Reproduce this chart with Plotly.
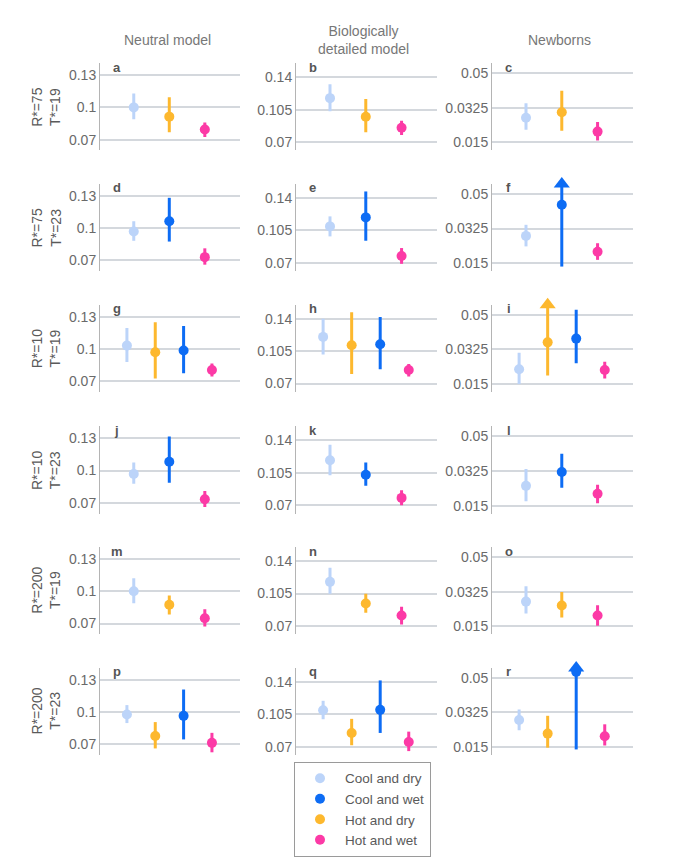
import plotly.graph_objects as go

OFF = float("inf")  # upper limit runs past the top of the axis (drawn as an arrow)

categories = ["Cool and dry", "Cool and wet", "Hot and dry", "Hot and wet"]
x_order = ["Cool and dry", "Hot and dry", "Cool and wet", "Hot and wet"]
colors = {"Cool and dry": "#bcd4f9", "Cool and wet": "#0d6cf4",
          "Hot and dry": "#fdb82e", "Hot and wet": "#fc3aa6"}

panel_letters = list("abcdefghijklmnopqr")
col_titles = ["Neutral model", "Biologically<br>detailed model", "Newborns"]
row_labels = ["R*=75<br>T*=19", "R*=75<br>T*=23", "R*=10<br>T*=19",
              "R*=10<br>T*=23", "R*=200<br>T*=19", "R*=200<br>T*=23"]

y_ranges = [[0.06, 0.141], [0.061, 0.155], [0.011, 0.055]]
y_ticks = [[0.07, 0.1, 0.13], [0.07, 0.105, 0.14], [0.015, 0.0325, 0.05]]
y_ticktext = [["0.07", "0.1", "0.13"], ["0.07", "0.105", "0.14"], ["0.015", "0.0325", "0.05"]]

# panels a..r, row by row
cool_dry_mid = [0.100, 0.1174, 0.0275, 0.0969, 0.1093, 0.0288, 0.103, 0.1203, 0.0224,
                0.0969, 0.1186, 0.025, 0.100, 0.1176, 0.0275, 0.0976, 0.1093, 0.0287]
cool_dry_lo = [0.089, 0.1033, 0.0215, 0.0882, 0.0985, 0.0235, 0.0878, 0.1014, 0.015,
               0.0877, 0.1024, 0.0172, 0.0889, 0.1047, 0.0215, 0.0897, 0.0996, 0.0235]
cool_dry_hi = [0.113, 0.1325, 0.0348, 0.1064, 0.1201, 0.0344, 0.1194, 0.140, 0.0307,
               0.1076, 0.1353, 0.0335, 0.112, 0.1327, 0.0352, 0.1064, 0.1195, 0.034]

cool_wet_mid = [None, None, None, 0.1064, 0.119, 0.0445, 0.0985, 0.1123, 0.0379,
                0.1082, 0.1028, 0.032, None, None, None, 0.0964, 0.1097, 0.053]
cool_wet_lo = [None, None, None, 0.0875, 0.0938, 0.0133, 0.0773, 0.0853, 0.0254,
               0.0887, 0.091, 0.024, None, None, None, 0.0745, 0.0848, 0.0138]
cool_wet_hi = [None, None, None, 0.1282, 0.147, OFF, 0.1212, 0.1419, 0.0525,
               0.1316, 0.1161, 0.0412, None, None, None, 0.1209, 0.1415, OFF]

hot_dry_mid = [0.0914, 0.0974, 0.0303, None, None, None, 0.0969, 0.1112, 0.036,
               None, None, None, 0.0874, 0.0942, 0.0255, 0.0776, 0.0848, 0.0218]
hot_dry_lo = [0.0769, 0.0805, 0.0209, None, None, None, 0.0724, 0.0802, 0.0192,
              None, None, None, 0.0784, 0.0843, 0.0195, 0.0661, 0.0715, 0.0147]
hot_dry_hi = [0.1095, 0.1166, 0.0412, None, None, None, 0.1248, 0.1469, OFF,
              None, None, None, 0.0961, 0.1047, 0.0323, 0.0906, 0.100, 0.0308]

hot_wet_mid = [0.0795, 0.0855, 0.0205, 0.073, 0.0773, 0.0208, 0.0803, 0.0845, 0.022,
               0.0733, 0.0779, 0.021, 0.0749, 0.0813, 0.0205, 0.0713, 0.075, 0.0205]
hot_wet_lo = [0.0725, 0.0776, 0.016, 0.066, 0.0689, 0.0167, 0.0742, 0.0776, 0.0178,
              0.066, 0.070, 0.0162, 0.0673, 0.0716, 0.0153, 0.0625, 0.0652, 0.0158]
hot_wet_hi = [0.0859, 0.0931, 0.0254, 0.0812, 0.0859, 0.0251, 0.0864, 0.0911, 0.0262,
              0.081, 0.0862, 0.0256, 0.0833, 0.0907, 0.0257, 0.0806, 0.0862, 0.0265]

series = {
    "Cool and dry": (cool_dry_mid, cool_dry_lo, cool_dry_hi),
    "Cool and wet": (cool_wet_mid, cool_wet_lo, cool_wet_hi),
    "Hot and dry": (hot_dry_mid, hot_dry_lo, hot_dry_hi),
    "Hot and wet": (hot_wet_mid, hot_wet_lo, hot_wet_hi),
}

W, H = 700, 857
col_px = [(100, 240), (296, 437), (492, 633)]
row_top_px = [64, 186, 308, 431, 553, 675]
panel_h = 88
FONT = "Liberation Sans, Arial, sans-serif"

fig = go.Figure()
layout = {}
annotations = []

for p, letter in enumerate(panel_letters):
    r, c = divmod(p, 3)
    suffix = "" if p == 0 else str(p + 1)
    xa, ya = "x" + suffix, "y" + suffix
    present = [cat for cat in x_order if series[cat][1][p] is not None]
    n = len(present)
    top = y_ranges[c][1]

    for pos, cat in enumerate(present):
        mid, lo, hi = (s[p] for s in series[cat])
        col = colors[cat]
        if hi == OFF:
            fig.add_trace(go.Scatter(x=[pos, pos], y=[lo, top], mode="lines",
                                     line=dict(color=col, width=3), xaxis=xa, yaxis=ya,
                                     showlegend=False, hoverinfo="skip", cliponaxis=False))
            fig.add_trace(go.Scatter(x=[pos], y=[mid], mode="markers",
                                     marker=dict(color=col, size=10), xaxis=xa, yaxis=ya,
                                     showlegend=False, cliponaxis=False))
            fig.add_trace(go.Scatter(x=[pos], y=[top], mode="markers",
                                     marker=dict(color=col, size=14, symbol="triangle-up"),
                                     xaxis=xa, yaxis=ya, showlegend=False, cliponaxis=False))
        else:
            fig.add_trace(go.Scatter(
                x=[pos], y=[mid], mode="markers",
                marker=dict(color=col, size=10),
                error_y=dict(type="data", symmetric=False, array=[hi - mid],
                             arrayminus=[mid - lo], color=col, thickness=3, width=0),
                xaxis=xa, yaxis=ya, showlegend=False, cliponaxis=False))

    x0, x1 = col_px[c]
    yt = row_top_px[r]
    layout["xaxis" + suffix] = dict(domain=[x0 / W, x1 / W], range=[-0.95, n - 0.01],
                                    anchor=ya, visible=False, fixedrange=True)
    layout["yaxis" + suffix] = dict(domain=[1 - (yt + panel_h) / H, 1 - yt / H],
                                    range=y_ranges[c], anchor=xa,
                                    tickvals=y_ticks[c], ticktext=y_ticktext[c],
                                    showgrid=True, gridcolor="#d4d8dd", gridwidth=1.5,
                                    zeroline=False, showline=True, linecolor="#b4b4b4",
                                    linewidth=1, ticks="",
                                    tickfont=dict(size=14, color="#6a6a6a", family=FONT))
    annotations.append(dict(text=f"<b>{letter}</b>", xref=f"{xa} domain", yref=f"{ya} domain",
                            x=0.12, y=0.955, xanchor="center", yanchor="middle",
                            showarrow=False, font=dict(size=13, color="#555555", family=FONT)))

for c, title in enumerate(col_titles):
    x0, x1 = col_px[c]
    annotations.append(dict(text=title, xref="paper", yref="paper",
                            x=((x0 + x1) / 2 - 3) / W, y=1 - 40 / H,
                            xanchor="center", yanchor="middle", showarrow=False,
                            font=dict(size=14, color="#777777", family=FONT)))

for r, lab in enumerate(row_labels):
    yc = row_top_px[r] + panel_h / 2
    annotations.append(dict(text=lab, xref="paper", yref="paper",
                            x=46 / W, y=1 - yc / H, xanchor="center", yanchor="middle",
                            textangle=-90, showarrow=False,
                            font=dict(size=14, color="#5a5a5a", family=FONT)))

# legend entries
for cat in categories:
    fig.add_trace(go.Scatter(x=[None], y=[None], mode="markers", name=cat,
                             marker=dict(color=colors[cat], size=10), xaxis="x", yaxis="y"))

fig.update_layout(
    width=W, height=H, margin=dict(l=0, r=0, t=0, b=0),
    plot_bgcolor="white", paper_bgcolor="white",
    font=dict(family=FONT, color="#666666"),
    annotations=annotations,
    legend=dict(x=294 / W, y=1 - 770 / H, xanchor="left", yanchor="top",
                bordercolor="#9a9a9a", borderwidth=1, bgcolor="white", itemwidth=40,
                font=dict(size=13.5, color="#5a5a5a", family=FONT), tracegroupgap=0),
    **layout,
)

fig.write_html("out.html", config={"displayModeBar": False},
               post_script="document.body.style.margin='0';")
